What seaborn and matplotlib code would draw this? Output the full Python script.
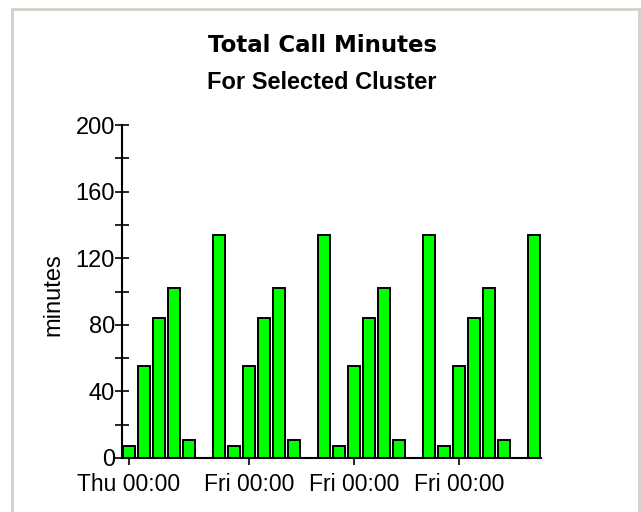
import matplotlib
matplotlib.use("Agg")
import matplotlib.pyplot as plt
from matplotlib.lines import Line2D
from matplotlib.ticker import MultipleLocator
import seaborn as sns


# -----------------------------
# Data
# -----------------------------

slots = list(range(28))

minutes = [
    7, 55, 84, 102, 11, 0, 134,
    7, 55, 84, 102, 11, 0, 134,
    7, 55, 84, 102, 11, 0, 134,
    7, 55, 84, 102, 11, 0, 134,
]

tick_slots = [0, 8, 15, 22]
tick_labels = ["Thu 00:00", "Fri 00:00", "Fri 00:00", "Fri 00:00"]


# -----------------------------
# Style
# -----------------------------

sns.set_style("white")
plt.rcParams["font.family"] = ["Liberation Sans", "DejaVu Sans"]
plt.rcParams["text.color"] = "black"
plt.rcParams["axes.labelcolor"] = "black"
plt.rcParams["xtick.color"] = "black"
plt.rcParams["ytick.color"] = "black"

fig = plt.figure(figsize=(6.41, 5.12), dpi=100)
ax = fig.add_axes([122 / 641, 1 - 458 / 512, (541 - 122) / 641, (458 - 125) / 512])


# -----------------------------
# Bars
# -----------------------------

sns.barplot(
    x=slots,
    y=minutes,
    color="#00ff00",
    saturation=1,
    edgecolor="black",
    linewidth=1.4,
    width=0.8,
    errorbar=None,
    ax=ax
)

ax.set_xlim(-0.47, 27.47)
ax.set_ylim(0, 200)

ax.set_xticks(tick_slots)
ax.set_xticklabels(tick_labels, fontsize=16.5)
ax.yaxis.set_major_locator(MultipleLocator(40))
ax.yaxis.set_minor_locator(MultipleLocator(20))
ax.tick_params(axis="y", which="both", direction="inout", length=10,
               width=1.2, labelsize=17, pad=0, left=True)
ax.tick_params(axis="x", direction="inout", length=10, width=1.2, pad=5.5,
               bottom=True)

ax.set_ylabel("minutes", fontsize=17)
ax.yaxis.set_label_coords(-0.138, 0.49)
ax.set_xlabel("")

sns.despine(ax=ax)
for side in ["left", "bottom"]:
    ax.spines[side].set_color("black")
    ax.spines[side].set_linewidth(1.5)


# -----------------------------
# Titles and frame
# -----------------------------

fig.text(0.503, 1 - 52 / 512, "Total Call Minutes", ha="center",
         va="baseline", fontsize=16.5, fontweight="bold",
         family="DejaVu Sans")
fig.text(0.502, 1 - 89 / 512, "For Selected Cluster", ha="center",
         va="baseline", fontsize=17, fontweight="bold")

frame = "#d4d0c8"
fig.add_artist(Line2D([12 / 641, 12 / 641], [0, 1 - 9 / 512], color=frame, lw=2))
fig.add_artist(Line2D([12 / 641, 639 / 641], [1 - 9 / 512, 1 - 9 / 512], color=frame, lw=2))
fig.add_artist(Line2D([639 / 641, 639 / 641], [0, 1 - 9 / 512], color=frame, lw=2))

fig.savefig("out.png", dpi=100)
